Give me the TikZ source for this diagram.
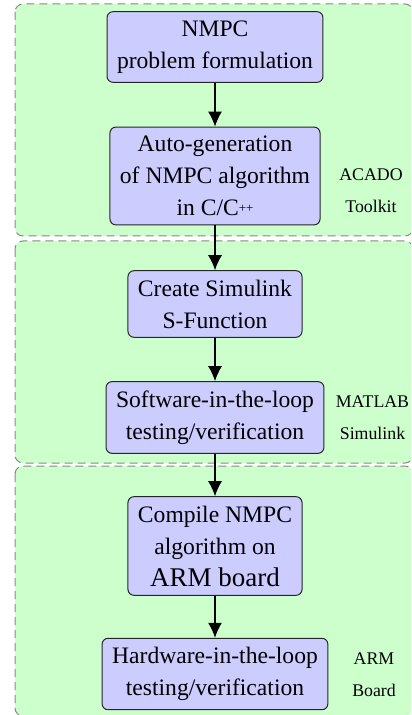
\documentclass[tikz,border=0pt]{standalone}
\usepackage{fontspec}
\setmainfont{Liberation Serif}
\usetikzlibrary{arrows.meta}
\definecolor{boxfill}{HTML}{CCCCFF}
\definecolor{grpfill}{HTML}{CCFFCC}
\definecolor{grpline}{HTML}{888888}
\begin{document}
\begin{tikzpicture}[x=0.5pt,y=-0.5pt,
  stepbox/.style={draw=black!85, line width=0.5pt, fill=boxfill, rounded corners=3pt,
    align=center, inner xsep=5pt, inner ysep=4.5pt, font=\fontsize{11.8}{16}\selectfont},
  grp/.style={draw=grpline, fill=grpfill, dash pattern=on 4pt off 2.5pt,
    line width=0.5pt, rounded corners=4pt},
  tool/.style={align=center, inner sep=0pt, font=\fontsize{8.9}{16}\selectfont},
  flow/.style={-{Latex[length=7.5pt,width=7pt]}, line width=0.6pt}]
\useasboundingbox (0,0) rectangle (411,715);
\begin{scope}
\clip (0,0) rectangle (411,715);
\path[grp] (15,4) rectangle (413,236);
\path[grp] (15,241) rectangle (413,463);
\path[grp] (15,466) rectangle (413,716);
\end{scope}

\node[stepbox] (n1) at (215,47) {NMPC\\problem formulation};
\node[stepbox] (n2) at (215,176) {Auto-generation\\of NMPC algorithm\\in C/C\raisebox{0.3ex}{\fontsize{6.5}{7}\selectfont ++}};
\node[stepbox] (n3) at (215,304) {Create Simulink\\S-Function};
\node[stepbox] (n4) at (215,417.5) {Software-in-the-loop\\testing/verification};
\node[stepbox] (n5) at (215,546) {Compile NMPC\\algorithm on\\{\fontsize{13.5}{16}\selectfont ARM board}};
\node[stepbox] (n6) at (215,674) {Hardware-in-the-loop\\testing/verification};

\node[tool] (t1) at (371,191) {ACADO\\Toolkit};
\node[tool] (t2) at (372.5,417.5) {MATLAB\\Simulink};
\node[tool] (t3) at (374,674.5) {ARM\\Board};

\draw[flow] (n1) -- (n2);
\draw[flow] (n2) -- (n3);
\draw[flow] (n3) -- (n4);
\draw[flow] (n4) -- (n5);
\draw[flow] (n5) -- (n6);
\end{tikzpicture}
\end{document}
